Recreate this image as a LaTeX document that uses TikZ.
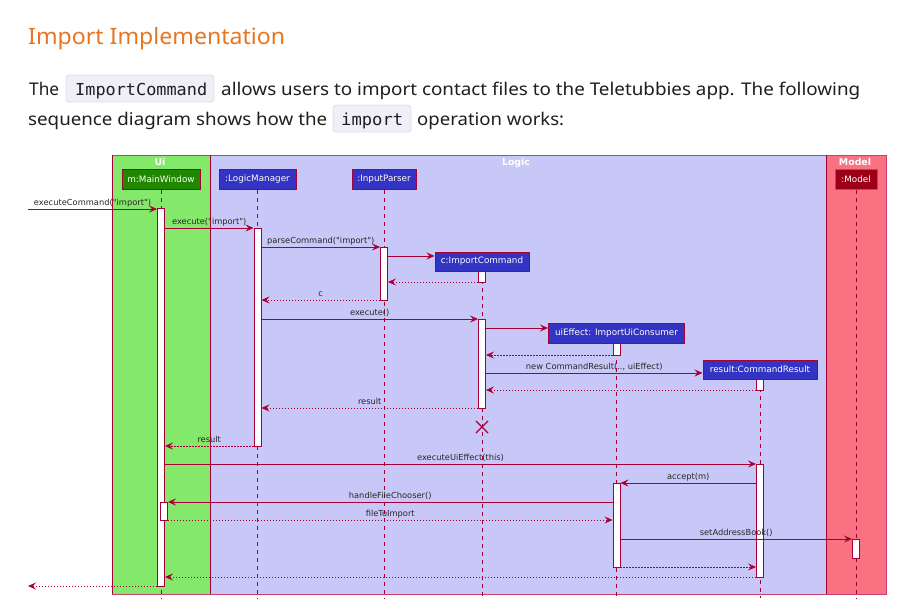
\documentclass[tikz,border=0pt]{standalone}
\usepackage{fontspec}
\usepackage{graphicx}
\usetikzlibrary{arrows.meta,shapes.misc}
\newfontfamily\bodyfont{Noto Sans}
\newfontfamily\djfont{DejaVu Sans}
\newfontfamily\djbold{DejaVu Sans Bold}
\newfontfamily\codefont{DejaVu Sans Mono}
\definecolor{crim}{HTML}{A80036}
\definecolor{framec}{HTML}{C8406E}
\definecolor{uigreen}{HTML}{84E86A}
\definecolor{logicc}{HTML}{C8C8F8}
\definecolor{modelc}{HTML}{F87282}
\definecolor{mwc}{HTML}{1F8800}
\definecolor{lgc}{HTML}{3333C4}
\definecolor{mdc}{HTML}{9B0016}
\definecolor{headc}{HTML}{E8751F}
\definecolor{chipbg}{HTML}{EFEFF8}
\definecolor{chipbd}{HTML}{DDDDEC}
\definecolor{bodyc}{HTML}{1E1E1E}
\begin{document}
\begin{tikzpicture}[x=1pt,y=-1pt,
  part/.style={draw=crim, line width=1pt, text=white, inner sep=0pt, minimum height=20pt,
    font=\djfont\fontsize{8.8}{10}\selectfont},
  act/.style={draw=crim, fill=white, line width=0.9pt, inner sep=0pt, minimum width=7pt},
  life/.style={draw=crim, line width=0.8pt, dash pattern=on 4pt off 4pt},
  msg/.style={draw=crim, line width=0.8pt, -{Stealth[length=8pt,width=7pt,inset=3pt]}},
  ret/.style={msg, dash pattern=on 1.5pt off 1.5pt},
  lbl/.style={anchor=base, inner sep=0pt, yshift=3.5pt, text=black!85,
    font=\djfont\fontsize{8.3}{10}\selectfont},
  ftitle/.style={text=white, inner sep=0pt, anchor=base, font=\djbold\fontsize{9.4}{10}\selectfont},
  txt/.style={anchor=base west, inner sep=0pt, text=bodyc},
  chip/.style={draw=chipbd, fill=chipbg, rounded corners=3pt, line width=0.8pt}
]
\useasboundingbox[fill=white] (0,0) rectangle (916,613);

% ---- text above the diagram
\node[txt, text=headc] (head) at (28,45)
  {\resizebox{257pt}{\height}{\bodyfont\fontsize{22.5}{26}\selectfont Import Implementation}};
\draw[chip] (66,75) rectangle (214,102);
\draw[chip] (333,105) rectangle (411,132);
\node[txt] (t1) at (29,95) {\resizebox{30pt}{\height}{\bodyfont\fontsize{17.5}{20}\selectfont The}};
\node[txt] (c1) at (75,95) {\resizebox{132pt}{\height}{\codefont\fontsize{16.5}{20}\selectfont ImportCommand}};
\node[txt] (t2) at (221,95) {\resizebox{639pt}{\height}{\bodyfont\fontsize{17.5}{20}\selectfont allows users to import contact files to the Teletubbies app. The following}};
\node[txt] (t3) at (28,125) {\resizebox{299pt}{\height}{\bodyfont\fontsize{17.5}{20}\selectfont sequence diagram shows how the}};
\node[txt] (c2) at (341,125) {\resizebox{62pt}{\height}{\codefont\fontsize{16.5}{20}\selectfont import}};
\node[txt] (t4) at (417,125) {\resizebox{147pt}{\height}{\bodyfont\fontsize{17.5}{20}\selectfont operation works:}};

% ---- boxes
\filldraw[fill=uigreen, draw=framec, line width=0.9pt] (112,155) rectangle (210,594);
\filldraw[fill=logicc, draw=framec, line width=0.9pt] (210,155) rectangle (826,594);
\filldraw[fill=modelc, draw=framec, line width=0.9pt] (826,155) rectangle (886,594);
\draw[crim, line width=1pt] (112,155) -- (112,594) (210,155) -- (210,594) (826,155) -- (826,594);
\node[ftitle] (tui) at (160,165) {Ui};
\node[ftitle] (tlogic) at (516,165) {Logic};
\node[ftitle] (tmodel) at (855,165) {Model};

% ---- participants
\node[part, fill=mwc, minimum width=78pt] (pMW) at (161,179) {m:MainWindow};
\node[part, fill=lgc, minimum width=77pt] (pLM) at (257.5,179) {:LogicManager};
\node[part, fill=lgc, minimum width=64pt] (pIP) at (384,179) {:InputParser};
\node[part, fill=mdc, draw=framec, minimum width=42pt] (pM) at (856,179) {:Model};
\node[part, fill=lgc, minimum width=94pt, minimum height=19pt] (pIC) at (482,261.5) {c:ImportCommand};
\node[part, fill=lgc, minimum width=136pt] (pUE) at (616.5,333) {uiEffect: ImportUiConsumer};
\node[part, fill=lgc, minimum width=114pt, minimum height=19pt] (pCR) at (760,369.5) {result:CommandResult};

% ---- lifelines
\coordinate (eMW) at (161,598);
\coordinate (eLM) at (257.5,598);
\coordinate (eIP) at (384,598);
\coordinate (eIC) at (482,598);
\coordinate (eUE) at (616.5,598);
\coordinate (eCR) at (760,598);
\coordinate (eM) at (856,598);
\draw[life] (pMW.south) -- (eMW);
\draw[life] (pLM.south) -- (eLM);
\draw[life] (pIP.south) -- (eIP);
\draw[life] (pIC.south) -- (eIC);
\draw[life] (pUE.south) -- (eUE);
\draw[life] (pCR.south) -- (eCR);
\draw[life] (pM.south) -- (eM);

% ---- activations
\node[act, minimum height=378pt] (aMW) at (161,397) {};
\node[act, minimum height=18pt] (aMW2) at (164,511) {};
\node[act, minimum height=218pt] (aLM) at (257.5,337) {};
\node[act, minimum height=53pt] (aIP) at (384,273.5) {};
\node[act, minimum height=11pt] (aIC1) at (482,276.5) {};
\node[act, minimum height=89pt] (aIC2) at (482,363.5) {};
\node[act, minimum height=12pt] (aUE1) at (616.5,349) {};
\node[act, minimum height=84pt] (aUE2) at (616.5,525) {};
\node[act, minimum height=11pt] (aCR1) at (760,384.5) {};
\node[act, minimum height=113pt] (aCR2) at (760,520.5) {};
\node[act, minimum height=19pt] (aM) at (856,548.5) {};

% ---- messages
\coordinate (inL) at (28,209);
\coordinate (outL) at (28,586);
\draw[msg] (inL) -- (aMW.west |- inL) node[lbl, midway] {executeCommand("import")};
\draw[msg] (aMW.east |- 0,228) -- (aLM.west |- 0,228) node[lbl, midway] {execute("import")};
\draw[msg] (aLM.east |- 0,247) -- (aIP.west |- 0,247) node[lbl, midway] {parseCommand("import")};
\draw[msg] (aIP.east |- 0,256) -- (pIC.west |- 0,256);
\draw[ret] (aIC1.west |- 0,282) -- (aIP.east |- 0,282);
\draw[ret] (aIP.west |- 0,300) -- (aLM.east |- 0,300) node[lbl, midway] {c};
\draw[msg] (aLM.east |- 0,319) -- (aIC2.west |- 0,319) node[lbl, midway] {execute()};
\draw[msg] (aIC2.east |- 0,328) -- (pUE.west |- 0,328);
\draw[ret] (aUE1.west |- 0,355) -- (aIC2.east |- 0,355);
\draw[msg] (aIC2.east |- 0,373) -- (pCR.west |- 0,373) node[lbl, midway] {new CommandResult(.., uiEffect)};
\draw[ret] (aCR1.west |- 0,390) -- (aIC2.east |- 0,390);
\draw[ret] (aIC2.west |- 0,408) -- (aLM.east |- 0,408) node[lbl, midway] {result};
\node[cross out, draw=crim, line width=1.1pt, minimum size=11pt, inner sep=0pt] (destroy) at (482,427) {};
\draw[ret] (aLM.west |- 0,446) -- (aMW.east |- 0,446) node[lbl, midway] {result};
\draw[msg] (aMW.east |- 0,464) -- (aCR2.west |- 0,464) node[lbl, midway] {executeUiEffect(this)};
\draw[msg] (aCR2.west |- 0,483) -- (aUE2.east |- 0,483) node[lbl, midway] {accept(m)};
\draw[msg] (aUE2.west |- 0,502) -- (aMW2.east |- 0,502) node[lbl, midway] {handleFileChooser()};
\draw[ret] (aMW2.east |- 0,520) -- (aUE2.west |- 0,520) node[lbl, midway] {fileToImport};
\draw[msg] (aUE2.east |- 0,539) -- (aM.west |- 0,539) node[lbl, midway] {setAddressBook()};
\draw[ret] (aUE2.east |- 0,567) -- (aCR2.west |- 0,567);
\draw[ret] (aCR2.west |- 0,577) -- (aMW.east |- 0,577);
\draw[ret] (aMW.west |- outL) -- (outL);
\end{tikzpicture}
\end{document}
